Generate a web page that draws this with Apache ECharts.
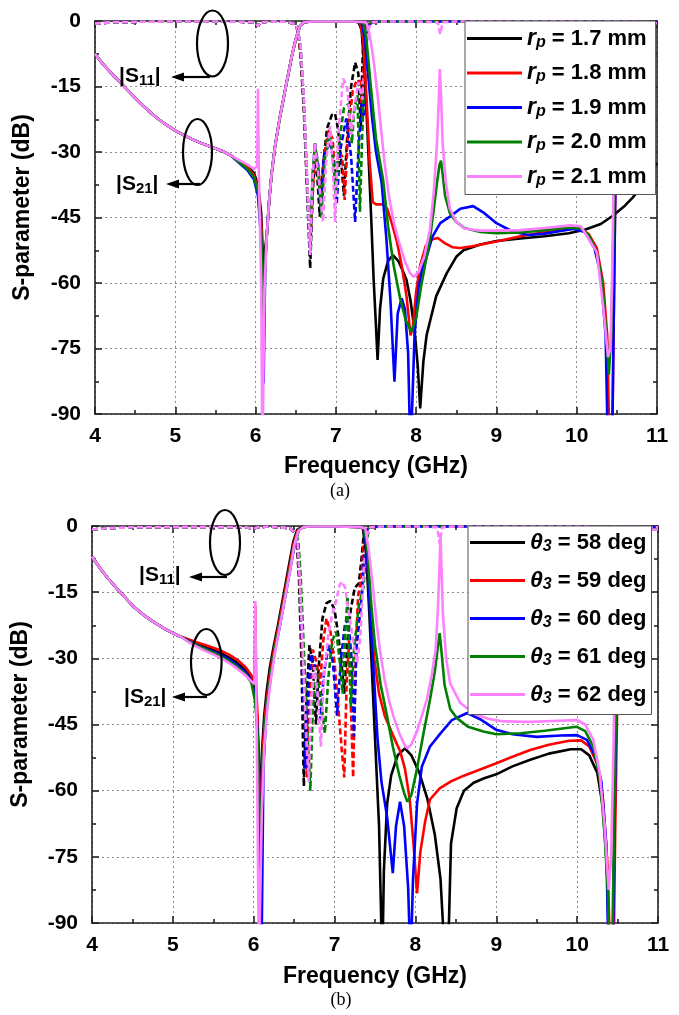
<!DOCTYPE html>
<html><head><meta charset="utf-8">
<script src="https://cdn.jsdelivr.net/npm/echarts@6/dist/echarts.min.js"></script>
<style>html,body{margin:0;padding:0;background:#fff}#c{width:679px;height:1015px}</style>
</head><body><div id="c"></div><script>
// ---------- tick / label data ----------
const X_TICKS = [4, 5, 6, 7, 8, 9, 10, 11];
const Y_TICKS = [0, -15, -30, -45, -60, -75, -90];
const COLORS = ['#000000', '#ff0000', '#0000ff', '#008000', '#ff80ff'];
const RP_VALUES = ['1.7', '1.8', '1.9', '2.0', '2.1'];
const THETA_VALUES = ['58', '59', '60', '61', '62'];

// ---------- panel (a): |S21| ----------
const S21A_LOW = [[4.0,-7.5],[4.1,-9.9],[4.2,-11.9],[4.3,-13.8],[4.4,-15.7],[4.5,-17.6],[4.6,-19.4],[4.7,-21.1],[4.8,-22.6],[4.9,-23.9],[5.0,-25.1],[5.1,-26.1],[5.2,-27.0],[5.3,-27.8],[5.4,-28.5],[5.5,-29.2],[5.6,-29.9],[5.7,-30.9]];
const S21A_NULL_BK = [[5.8,-32.1],[5.9,-33.3],[5.98,-34.8],[6.03,-37.5],[6.07,-44],[6.1,-58],[6.12,-52]];
const S21A_NULL_RD = [[5.8,-32.2],[5.9,-33.5],[5.98,-35.3],[6.03,-38.5],[6.07,-46],[6.1,-68],[6.12,-55]];
const S21A_NULL_BL = [[5.8,-32.6],[5.9,-34.2],[5.98,-36.3],[6.03,-40],[6.07,-50],[6.1,-83],[6.12,-56]];
const S21A_NULL_GN = [[5.8,-32.4],[5.9,-33.9],[5.98,-35.8],[6.03,-39],[6.07,-48],[6.1,-75],[6.12,-55]];
const S21A_NULL_PK = [[5.8,-31.9],[5.9,-32.9],[5.98,-33.9],[6.02,-33.2],[6.03,-15.5],[6.04,-34.5],[6.07,-60],[6.085,-100],[6.11,-62]];
const S21A_RISE = [[6.14,-49],[6.17,-41],[6.2,-35],[6.24,-29],[6.3,-22.3],[6.35,-17.6],[6.4,-12.8],[6.45,-8.2],[6.5,-4.2],[6.55,-1.3],[6.6,-0.3],[6.7,-0.1],[7.0,-0.1],[7.2,-0.1]];
const S21A_HI_BK = [[7.28,-0.2],[7.32,-2],[7.36,-12],[7.40,-28],[7.44,-45],[7.47,-59],[7.50,-70],[7.52,-77.6],[7.55,-66],[7.59,-59],[7.65,-55],[7.71,-53.6],[7.78,-55],[7.84,-57.5],[7.88,-59.3],[7.93,-64],[7.98,-70.8],[8.02,-79],[8.05,-88.7],[8.09,-78],[8.13,-72],[8.17,-69],[8.25,-63],[8.38,-57.8],[8.5,-54],[8.59,-52.5],[8.8,-51.2],[9.0,-50.4],[9.3,-49.8],[9.6,-49.3],[9.9,-48.6],[10.1,-47.8],[10.3,-46.5],[10.45,-44.6],[10.6,-42.3],[10.7,-40.4],[10.8,-38],[10.9,-35.3],[11.0,-32.5]];
const S21A_HI_RD = [[7.3,-0.3],[7.34,-4],[7.38,-17],[7.42,-32],[7.46,-41.5],[7.5,-42],[7.58,-42],[7.64,-43],[7.7,-46.5],[7.76,-50.5],[7.82,-56],[7.88,-63],[7.93,-72],[7.96,-70],[8.0,-62],[8.05,-56],[8.12,-51.5],[8.2,-50],[8.27,-49.7],[8.35,-50.8],[8.45,-51.8],[8.55,-52],[8.7,-51.6],[9.0,-50.5],[9.3,-49.3],[9.6,-48.3],[9.92,-47.5],[10.05,-47.6],[10.15,-48.8],[10.25,-52],[10.33,-60],[10.38,-72],[10.41,-100],[10.44,-100],[10.46,-70],[10.48,-40],[10.51,-18],[10.55,-6],[10.6,-1.5],[10.7,-0.5],[11.0,-0.5]];
const S21A_HI_BL = [[7.32,-0.3],[7.36,-4],[7.4,-12],[7.45,-22],[7.5,-30],[7.57,-37],[7.63,-50],[7.68,-64],[7.73,-82.6],[7.77,-67],[7.82,-63.5],[7.86,-66],[7.9,-76],[7.93,-100],[7.95,-100],[7.98,-72],[8.03,-61],[8.08,-56.5],[8.13,-54],[8.2,-49.5],[8.3,-46.3],[8.42,-44.8],[8.55,-43],[8.71,-42.4],[8.85,-44],[9.0,-46.3],[9.2,-48.2],[9.4,-49],[9.6,-48.7],[9.8,-48.1],[9.95,-47.6],[10.1,-48.3],[10.22,-52],[10.3,-58],[10.36,-72],[10.39,-100],[10.44,-100],[10.46,-70],[10.48,-40],[10.51,-18],[10.55,-6],[10.6,-1.5],[10.7,-0.5],[11.0,-0.5]];
const S21A_HI_GN = [[7.34,-0.3],[7.38,-4],[7.43,-14],[7.5,-27],[7.59,-36.5],[7.65,-47],[7.72,-56],[7.8,-63.5],[7.87,-68.5],[7.94,-71.2],[8.0,-68],[8.06,-61],[8.12,-55],[8.17,-50.2],[8.22,-43],[8.26,-37],[8.29,-33],[8.31,-32],[8.33,-35],[8.36,-40],[8.42,-44],[8.5,-46],[8.6,-47.4],[8.8,-48.3],[9.0,-48.6],[9.3,-48.4],[9.6,-47.9],[9.9,-47.3],[10.05,-47.5],[10.15,-49],[10.25,-53],[10.32,-60],[10.37,-72],[10.4,-81],[10.43,-72],[10.46,-45],[10.49,-22],[10.53,-8],[10.6,-2],[10.7,-0.5],[11.0,-0.5]];
const S21A_HI_PK = [[7.38,-0.3],[7.42,-3],[7.47,-9],[7.52,-17],[7.57,-26],[7.61,-33],[7.66,-40],[7.72,-46],[7.78,-50.2],[7.86,-55],[7.92,-57.6],[7.97,-58.6],[8.03,-57.5],[8.1,-54],[8.17,-48],[8.22,-39],[8.26,-28],[8.28,-19],[8.295,-11],[8.31,-17],[8.33,-28],[8.37,-37],[8.42,-43],[8.5,-46],[8.6,-47.5],[8.8,-48],[9.0,-48],[9.3,-47.9],[9.6,-47.4],[9.92,-46.8],[10.05,-47],[10.16,-50.2],[10.25,-53],[10.33,-65.4],[10.39,-77],[10.42,-75],[10.44,-60],[10.46,-35],[10.48,-12],[10.52,-3],[10.6,-0.8],[10.7,-0.5],[11.0,-0.5]];

// ---------- panel (a): |S11| ----------
const S11A_LOW = [[4.0,-0.6],[4.2,-0.3],[4.5,-0.2],[5.0,-0.1],[5.5,-0.1],[5.9,-0.2],[6.0,-0.4],[6.03,-1.2],[6.06,-0.3],[6.2,-0.1],[6.4,-0.2],[6.5,-0.8],[6.53,-2.5]];
const S11A_BK = [[6.56,-8],[6.6,-20],[6.64,-38],[6.68,-56.6],[6.71,-40],[6.74,-31],[6.77,-36],[6.8,-44.8],[6.84,-33],[6.89,-24.6],[6.95,-21.5],[6.99,-21.2],[7.03,-25],[7.07,-33],[7.1,-40],[7.14,-27],[7.19,-15],[7.24,-9.5],[7.28,-12],[7.31,-25],[7.33,-10],[7.35,-2],[7.4,-0.3]];
const S11A_RD = [[6.56,-7],[6.6,-19],[6.64,-37],[6.68,-52],[6.72,-36],[6.75,-30],[6.79,-35],[6.82,-42],[6.86,-30],[6.91,-25],[6.96,-27],[7.0,-38],[7.03,-30],[7.08,-31],[7.11,-41],[7.15,-26],[7.21,-16],[7.26,-13.6],[7.3,-13.8],[7.33,-22],[7.35,-8],[7.38,-1.5],[7.42,-0.3]];
const S11A_BL = [[6.56,-6],[6.6,-18],[6.64,-36],[6.68,-53.6],[6.71,-36],[6.74,-28],[6.78,-33],[6.81,-43],[6.85,-31],[6.93,-27.7],[6.98,-33],[7.01,-42],[7.05,-30],[7.13,-22.3],[7.19,-31],[7.24,-46],[7.28,-30],[7.32,-18.8],[7.35,-22],[7.37,-8],[7.4,-1.5],[7.44,-0.3]];
const S11A_GN = [[6.56,-6],[6.6,-18],[6.64,-36],[6.68,-52],[6.71,-35],[6.74,-28],[6.78,-34],[6.82,-45],[6.86,-32],[6.91,-26],[6.96,-30],[7.0,-40],[7.04,-28],[7.1,-20],[7.16,-19],[7.2,-28],[7.23,-20],[7.27,-17],[7.3,-43.7],[7.33,-25],[7.37,-6],[7.41,-1],[7.45,-0.3]];
const S11A_PK = [[6.56,-5.6],[6.6,-17],[6.64,-35],[6.68,-53.6],[6.71,-36],[6.74,-28],[6.78,-35],[6.84,-46],[6.88,-32],[6.93,-24],[6.96,-33],[6.99,-46],[7.03,-26],[7.09,-13.2],[7.14,-15],[7.19,-26],[7.23,-20],[7.28,-14],[7.33,-18],[7.36,-9],[7.4,-2],[7.45,-0.3]];
const S11A_HIGH = [[7.6,-0.1],[8.0,-0.1],[8.5,-0.1],[9.0,-0.1],[10.0,-0.1],[10.3,-0.2],[10.4,-0.1],[11.0,-0.3]];
const S11A_HIGH_PK = [[7.6,-0.1],[8.0,-0.1],[8.27,-0.3],[8.3,-3],[8.33,-0.3],[8.5,-0.1],[9.0,-0.1],[10.0,-0.1],[10.3,-0.2],[10.4,-0.1],[11.0,-0.3]];

// ---------- panel (b): |S21| ----------
const S21B_LOW = [[4.0,-6.9],[4.1,-9.6],[4.2,-11.9],[4.3,-14.0],[4.4,-16.0],[4.5,-18.0],[4.6,-19.6],[4.7,-21.0],[4.8,-22.2],[4.9,-23.3],[5.0,-24.3],[5.1,-25.1]];
const S21B_MID_BK = [[5.2,-25.9],[5.3,-26.7],[5.4,-27.4],[5.5,-28.1],[5.6,-28.9],[5.7,-29.9],[5.8,-31.1],[5.9,-32.6],[5.97,-34.3],[6.01,-37],[6.04,-43],[6.07,-65],[6.1,-52],[6.13,-43],[6.16,-37.5],[6.2,-32],[6.25,-27],[6.3,-22.5],[6.35,-17.5],[6.4,-12.5],[6.45,-7.5],[6.49,-3.5],[6.54,-0.8],[6.6,-0.2]];
const S21B_MID_RD = [[5.2,-25.7],[5.3,-26.4],[5.4,-27.0],[5.5,-27.6],[5.6,-28.3],[5.7,-29.2],[5.8,-30.4],[5.9,-32.0],[5.97,-33.8],[6.01,-35.5],[6.02,-18],[6.03,-36],[6.05,-44],[6.08,-70],[6.11,-52],[6.14,-43],[6.17,-38],[6.21,-32.5],[6.26,-27],[6.31,-22.5],[6.36,-17.5],[6.41,-12.5],[6.46,-7.5],[6.5,-3.5],[6.55,-0.8],[6.61,-0.2]];
const S21B_MID_BL = [[5.2,-26.1],[5.3,-27.0],[5.4,-27.8],[5.5,-28.5],[5.6,-29.3],[5.7,-30.3],[5.8,-31.6],[5.9,-33.2],[5.97,-35],[6.02,-39],[6.06,-50],[6.095,-100],[6.12,-55],[6.15,-44],[6.18,-38.5],[6.22,-33],[6.27,-27.5],[6.32,-23],[6.37,-18],[6.42,-13],[6.47,-8],[6.51,-3.8],[6.56,-0.9],[6.62,-0.2]];
const S21B_MID_GN = [[5.2,-26.2],[5.3,-27.1],[5.4,-27.9],[5.5,-28.7],[5.6,-29.6],[5.7,-30.7],[5.8,-32.0],[5.9,-33.6],[5.97,-35.5],[6.02,-40],[6.05,-48],[6.08,-75],[6.12,-52],[6.15,-43],[6.18,-38],[6.22,-32.5],[6.27,-27],[6.32,-22.5],[6.37,-17.5],[6.42,-12.5],[6.47,-7.5],[6.51,-3.5],[6.56,-0.8],[6.62,-0.2]];
const S21B_MID_PK = [[5.2,-26.4],[5.3,-27.4],[5.4,-28.3],[5.5,-29.1],[5.6,-30.0],[5.7,-31.1],[5.8,-32.4],[5.9,-33.9],[5.97,-35.2],[6.01,-35.8],[6.02,-17],[6.03,-36],[6.045,-60],[6.065,-100],[6.1,-65],[6.13,-50],[6.17,-41],[6.21,-35],[6.26,-29],[6.31,-24],[6.36,-19],[6.41,-14],[6.46,-9],[6.5,-4.5],[6.55,-1.2],[6.62,-0.2]];
const S21B_PASS = [[6.7,-0.1],[7.0,-0.1],[7.3,-0.2]];
const S21B_HI_BK = [[7.35,-0.5],[7.39,-6],[7.43,-20],[7.47,-36],[7.51,-52],[7.55,-68],[7.59,-100],[7.61,-78],[7.65,-63],[7.7,-56.5],[7.78,-52],[7.87,-50.4],[7.95,-52],[8.05,-56],[8.15,-62],[8.24,-70],[8.31,-80],[8.37,-100],[8.4,-100],[8.44,-72],[8.51,-64],[8.6,-60],[8.72,-58.2],[8.85,-57.2],[9.0,-56.3],[9.2,-54.5],[9.42,-53],[9.65,-51.6],[9.92,-50.6],[10.05,-50.6],[10.15,-52],[10.25,-56],[10.32,-64],[10.37,-78],[10.4,-100],[10.44,-100],[10.46,-70],[10.49,-35],[10.53,-12],[10.6,-3],[10.7,-1],[11.0,-0.8]];
const S21B_HI_RD = [[7.36,-0.5],[7.4,-6],[7.44,-18],[7.49,-30],[7.55,-38],[7.62,-43],[7.7,-46.5],[7.76,-49],[7.81,-51],[7.87,-55],[7.93,-62],[7.98,-73],[8.02,-83.3],[8.06,-74],[8.12,-67],[8.18,-62],[8.3,-59.5],[8.45,-57.8],[8.6,-56.6],[8.8,-55.2],[9.0,-53.8],[9.2,-52.3],[9.42,-50.8],[9.65,-49.6],[9.9,-48.7],[10.05,-48.6],[10.15,-50],[10.25,-54],[10.32,-62],[10.38,-78],[10.41,-100],[10.45,-100],[10.47,-70],[10.5,-35],[10.54,-12],[10.6,-3],[10.7,-1],[11.0,-0.8]];
const S21B_HI_BL = [[7.36,-0.5],[7.4,-6],[7.44,-20],[7.49,-35],[7.53,-48],[7.58,-58],[7.65,-66],[7.72,-78.7],[7.76,-68],[7.81,-62.5],[7.86,-68],[7.91,-82],[7.94,-100],[7.97,-80],[8.02,-63],[8.08,-54.5],[8.18,-50],[8.31,-47],[8.45,-44],[8.64,-42.4],[8.8,-43.8],[9.0,-46.2],[9.2,-47.2],[9.5,-47.8],[9.8,-47.5],[10.0,-47.4],[10.12,-48.5],[10.22,-52],[10.3,-58],[10.36,-72],[10.39,-100],[10.44,-100],[10.46,-70],[10.49,-35],[10.53,-12],[10.6,-3],[10.7,-1],[11.0,-0.8]];
const S21B_HI_GN = [[7.37,-0.5],[7.41,-6],[7.45,-17],[7.5,-27],[7.57,-36],[7.65,-43.2],[7.72,-50],[7.8,-56.5],[7.86,-60.5],[7.9,-62.5],[7.95,-61],[8.02,-55],[8.1,-47],[8.18,-39.4],[8.24,-33],[8.28,-27],[8.3,-24.3],[8.32,-28],[8.36,-36],[8.43,-41.5],[8.51,-43.5],[8.65,-45.5],[8.84,-46.6],[9.0,-47.2],[9.3,-47],[9.6,-46.4],[9.99,-45.5],[10.1,-46.5],[10.2,-50],[10.28,-57],[10.34,-70],[10.38,-83],[10.4,-100],[10.43,-100],[10.46,-65],[10.49,-30],[10.53,-10],[10.6,-3],[10.7,-1],[11.0,-0.8]];
const S21B_HI_PK = [[7.38,-0.5],[7.42,-5],[7.47,-13],[7.52,-22],[7.56,-28],[7.62,-35],[7.68,-40],[7.73,-43.2],[7.8,-47],[7.87,-49.8],[7.9,-50.4],[7.95,-49.5],[8.02,-46.5],[8.08,-43],[8.14,-39.4],[8.2,-34],[8.25,-28],[8.28,-18],[8.3,-8],[8.31,-1.6],[8.32,-8],[8.34,-20],[8.38,-30],[8.43,-35.7],[8.55,-40],[8.72,-42.5],[8.9,-43.7],[9.09,-44.3],[9.4,-44.4],[9.7,-44.2],[10.0,-44],[10.1,-45],[10.2,-48.5],[10.28,-56],[10.34,-68],[10.39,-82.5],[10.42,-75],[10.45,-50],[10.48,-20],[10.52,-6],[10.6,-2],[10.7,-1],[11.0,-0.8]];

// ---------- panel (b): |S11| ----------
const S11B_LOW = [[4.0,-0.8],[4.2,-0.5],[4.5,-0.3],[5.0,-0.2],[5.5,-0.2],[5.9,-0.3],[6.0,-0.6],[6.05,-0.3],[6.2,-0.1],[6.45,-0.5],[6.5,-1.5]];
const S11B_BK = [[6.53,-3],[6.56,-12],[6.59,-30],[6.62,-59],[6.65,-40],[6.69,-27],[6.73,-31],[6.77,-45],[6.8,-33],[6.85,-21],[6.9,-17.5],[6.95,-17],[7.0,-19],[7.04,-24],[7.08,-30],[7.12,-38],[7.16,-26],[7.2,-19],[7.25,-14],[7.3,-13],[7.33,-8],[7.36,-2],[7.4,-0.3]];
const S11B_RD = [[6.54,-3],[6.57,-12],[6.6,-30],[6.63,-45],[6.66,-57],[6.69,-38],[6.73,-28],[6.78,-31],[6.82,-36],[6.86,-26],[6.9,-21],[6.95,-24],[7.0,-31],[7.05,-42],[7.09,-51],[7.12,-57],[7.15,-35],[7.18,-26],[7.2,-40],[7.23,-57],[7.26,-30],[7.29,-16],[7.33,-12],[7.36,-4],[7.4,-0.3]];
const S11B_BL = [[6.54,-3],[6.57,-11],[6.6,-28],[6.64,-55],[6.67,-38],[6.71,-29],[6.76,-32],[6.82,-44],[6.87,-33],[6.93,-27],[6.98,-31],[7.03,-43],[7.08,-30],[7.13,-22],[7.17,-21.3],[7.21,-30],[7.24,-47.7],[7.27,-28],[7.32,-19],[7.35,-12],[7.38,-2],[7.42,-0.3]];
const S11B_GN = [[6.55,-3],[6.58,-11],[6.62,-28],[6.66,-45],[6.7,-60],[6.73,-42],[6.77,-32],[6.82,-38],[6.88,-47],[6.92,-35],[6.97,-26],[7.02,-24],[7.06,-30],[7.1,-38],[7.13,-25],[7.16,-16],[7.2,-41],[7.24,-28],[7.3,-18],[7.36,-13.7],[7.39,-4],[7.43,-0.3]];
const S11B_PK = [[6.54,-3],[6.57,-12],[6.61,-30],[6.65,-48],[6.68,-58],[6.71,-40],[6.75,-32],[6.79,-38],[6.83,-50],[6.87,-34],[6.92,-25],[6.97,-20],[7.02,-17],[7.06,-13.5],[7.09,-12.6],[7.13,-14],[7.18,-20],[7.23,-26],[7.28,-31],[7.32,-25],[7.36,-10],[7.4,-2],[7.44,-0.3]];
const S11B_HIGH = [[7.6,-0.1],[8.0,-0.1],[8.5,-0.1],[9.0,-0.1],[10.0,-0.1],[10.35,-0.3],[10.45,-0.2],[11.0,-0.3]];
const S11B_HIGH_PK = [[7.6,-0.1],[8.0,-0.1],[8.27,-0.3],[8.3,-4],[8.33,-0.3],[8.5,-0.1],[9.0,-0.1],[10.0,-0.1],[10.35,-0.3],[10.45,-0.2],[11.0,-0.3]];

// ---------- assemble ----------
const S21A = [
  S21A_LOW.concat(S21A_NULL_BK, S21A_RISE, S21A_HI_BK),
  S21A_LOW.concat(S21A_NULL_RD, S21A_RISE, S21A_HI_RD),
  S21A_LOW.concat(S21A_NULL_BL, S21A_RISE, S21A_HI_BL),
  S21A_LOW.concat(S21A_NULL_GN, S21A_RISE, S21A_HI_GN),
  S21A_LOW.concat(S21A_NULL_PK, S21A_RISE, S21A_HI_PK)
];
const S11A = [
  S11A_LOW.concat(S11A_BK, S11A_HIGH),
  S11A_LOW.concat(S11A_RD, S11A_HIGH),
  S11A_LOW.concat(S11A_BL, S11A_HIGH),
  S11A_LOW.concat(S11A_GN, S11A_HIGH),
  S11A_LOW.concat(S11A_PK, S11A_HIGH_PK)
];
const S21B = [
  S21B_LOW.concat(S21B_MID_BK, S21B_PASS, S21B_HI_BK),
  S21B_LOW.concat(S21B_MID_RD, S21B_PASS, S21B_HI_RD),
  S21B_LOW.concat(S21B_MID_BL, S21B_PASS, S21B_HI_BL),
  S21B_LOW.concat(S21B_MID_GN, S21B_PASS, S21B_HI_GN),
  S21B_LOW.concat(S21B_MID_PK, S21B_PASS, S21B_HI_PK)
];
const S11B = [
  S11B_LOW.concat(S11B_BK, S11B_HIGH),
  S11B_LOW.concat(S11B_RD, S11B_HIGH),
  S11B_LOW.concat(S11B_BL, S11B_HIGH),
  S11B_LOW.concat(S11B_GN, S11B_HIGH),
  S11B_LOW.concat(S11B_PK, S11B_HIGH_PK)
];

const FONT = "'Liberation Sans', Arial, sans-serif";
const AXC = {color: '#222', width: 1.6};

function xAxis(grid, pos, main, gap) {
  return {
    type: 'value', gridIndex: grid, position: pos,
    min: X_TICKS[0], max: X_TICKS[X_TICKS.length - 1], interval: X_TICKS[1] - X_TICKS[0],
    axisLine: {show: true, onZero: false, lineStyle: AXC},
    axisTick: {show: true, inside: true, length: 7, lineStyle: AXC},
    minorTick: {show: true, splitNumber: 2, length: 4, lineStyle: AXC},
    splitLine: {show: main, lineStyle: {color: '#8a8a8a', width: 1, type: [2, 3]}},
    axisLabel: {show: main, margin: 12, color: '#000', fontFamily: FONT, fontWeight: 'bold', fontSize: 21},
    name: main ? 'Frequency (GHz)' : '', nameLocation: 'middle', nameGap: gap,
    nameTextStyle: {color: '#000', fontFamily: FONT, fontWeight: 'bold', fontSize: 23}
  };
}
function yAxis(grid, pos, main, gap) {
  return {
    type: 'value', gridIndex: grid, position: pos,
    min: Y_TICKS[Y_TICKS.length - 1], max: Y_TICKS[0], interval: Y_TICKS[0] - Y_TICKS[1],
    axisLine: {show: true, onZero: false, lineStyle: AXC},
    axisTick: {show: true, inside: true, length: 7, lineStyle: AXC},
    minorTick: {show: true, splitNumber: 2, length: 4, lineStyle: AXC},
    splitLine: {show: main, lineStyle: {color: '#8a8a8a', width: 1, type: [2, 3]}},
    axisLabel: {show: main, margin: 14, color: '#000', fontFamily: FONT, fontWeight: 'bold', fontSize: 21},
    name: main ? 'S-parameter (dB)' : '', nameLocation: 'middle', nameGap: gap,
    nameTextStyle: {color: '#000', fontFamily: FONT, fontWeight: 'bold', fontSize: 23, padding: [0, 0, 0, 20]}
  };
}

const namesA = RP_VALUES.map(v => 'rp = ' + v + ' mm');
const namesB = THETA_VALUES.map(v => 'θ3 = ' + v + ' deg');

const series = [];
function addPanel(s11, s21, names, xi, yi, tag) {
  s11.forEach((d, i) => series.push({
    type: 'line', name: tag + 'S11 ' + i, xAxisIndex: xi, yAxisIndex: yi, data: d,
    showSymbol: false, symbol: 'none', clip: true, animation: false,
    lineStyle: {color: COLORS[i], width: 2.6, type: [6, 3]}, itemStyle: {color: COLORS[i]}
  }));
  s21.forEach((d, i) => series.push({
    type: 'line', name: names[i], xAxisIndex: xi, yAxisIndex: yi, data: d,
    showSymbol: false, symbol: 'none', clip: true, animation: false,
    lineStyle: {color: COLORS[i], width: 2.6}, itemStyle: {color: COLORS[i]}
  }));
}
addPanel(S11A, S21A, namesA, 0, 0, 'a');
addPanel(S11B, S21B, namesB, 2, 2, 'b');

const legRich = {
  i: {fontFamily: FONT, fontStyle: 'italic', fontWeight: 'bold', fontSize: 23, lineHeight: 24, color: '#000'},
  s: {fontFamily: FONT, fontStyle: 'italic', fontWeight: 'bold', fontSize: 16, lineHeight: 14, verticalAlign: 'bottom', color: '#000'},
  n: {fontFamily: FONT, fontWeight: 'bold', fontSize: 22, lineHeight: 24, color: '#000'}
};
function legend(names, left, top, gap, pad, fmt) {
  return {
    data: names.map(n => ({name: n, icon: 'rect'})), orient: 'vertical', left: left, top: top,
    itemWidth: 55, itemHeight: 3, itemGap: gap,
    padding: pad, backgroundColor: '#fff', borderColor: '#555', borderWidth: 1, selectedMode: false,
    formatter: fmt, textStyle: {rich: legRich}
  };
}

const subRich = {
  n: {fontFamily: FONT, fontWeight: 'bold', fontSize: 21, lineHeight: 24, fill: '#000'},
  b: {fontFamily: FONT, fontWeight: 'bold', fontSize: 15, lineHeight: 14, verticalAlign: 'bottom', fill: '#000'}
};
function annot(cx, cy, rx, ry, ax1, ax2, ay, tx, ty, sub) {
  return [
    {type: 'ellipse', shape: {cx: cx, cy: cy, rx: rx, ry: ry}, style: {fill: 'none', stroke: '#000', lineWidth: 2.2}, z: 50},
    {type: 'line', shape: {x1: ax1, y1: ay, x2: ax2 + 10, y2: ay}, style: {stroke: '#000', lineWidth: 2.2}, z: 50},
    {type: 'polygon', shape: {points: [[ax2, ay], [ax2 + 13, ay - 4.5], [ax2 + 13, ay + 4.5]]}, style: {fill: '#000'}, z: 50},
    {type: 'text', x: tx, y: ty, z: 50, style: {text: '{n||S}{b|' + sub + '}{n||}', rich: subRich,
      align: 'left', textAlign: 'left', verticalAlign: 'middle', textVerticalAlign: 'middle'}}
  ];
}
const graphic = [].concat(
  annot(212.5, 43.5, 15.5, 33, 210, 171, 77, 119, 76, '11'),
  annot(197.5, 152, 14.5, 33, 200, 166, 184, 116, 184, '21'),
  annot(225, 542.5, 15, 32.5, 227, 189, 577, 139, 575, '11'),
  annot(206.3, 662, 15.3, 33, 207, 172, 697, 124, 697, '21'),
  [
    {type: 'text', x: 340, y: 491, style: {text: '(a)', font: "18px 'Liberation Serif', 'Times New Roman', serif", fill: '#000', align: 'center', textAlign: 'center', verticalAlign: 'middle', textVerticalAlign: 'middle'}},
    {type: 'text', x: 341, y: 1000, style: {text: '(b)', font: "18px 'Liberation Serif', 'Times New Roman', serif", fill: '#000', align: 'center', textAlign: 'center', verticalAlign: 'middle', textVerticalAlign: 'middle'}}
  ]
);

const chart = echarts.init(document.getElementById('c'));
chart.setOption({
  animation: false,
  backgroundColor: '#fff',
  grid: [
    {left: 95, top: 21, width: 562, height: 393},
    {left: 92, top: 526, width: 566, height: 397}
  ],
  xAxis: [xAxis(0, 'bottom', true, 41), xAxis(0, 'top', false, 0), xAxis(1, 'bottom', true, 42), xAxis(1, 'top', false, 0)],
  yAxis: [yAxis(0, 'left', true, 61), yAxis(0, 'right', false, 0), yAxis(1, 'left', true, 60), yAxis(1, 'right', false, 0)],
  legend: [
    legend(namesA, 465, 21, 11, [6, 9, 6, 2], n => '{i|r}{s|p}{n| = ' + RP_VALUES[namesA.indexOf(n)] + ' mm}'),
    legend(namesB, 468, 526, 14.5, [5, 5, 8, 2], n => '{i|θ}{s|3}{n| = ' + THETA_VALUES[namesB.indexOf(n)] + ' deg}')
  ],
  series: series,
  graphic: graphic
});
</script></body></html>
